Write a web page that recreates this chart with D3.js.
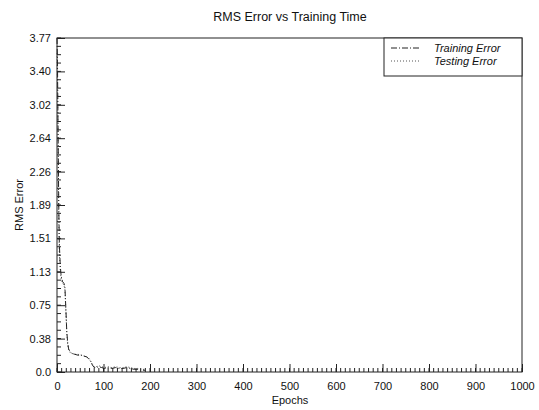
<!DOCTYPE html>
<html><head><meta charset="utf-8">
<script src="https://cdn.jsdelivr.net/npm/d3@7"></script>
<style>body{margin:0;background:#fff}svg{display:block;font-family:"Liberation Sans",Arial,sans-serif}</style>
</head><body><svg id="c" width="539" height="410"></svg>
<script>
const epochsTrain = [0,1,2,3,4,5,7,9,12,15,17,19,21,23,25,28,32,38,45,52,58,64,68,72,76,80,84,90,96,102,110,118,126,134,142,150,158,166,174,182,190];
const trainError  = [3.77,3.5,2.9,2.3,1.8,1.45,1.2,1.08,1.02,1.0,0.96,0.72,0.46,0.33,0.26,0.23,0.21,0.2,0.19,0.19,0.18,0.17,0.15,0.12,0.08,0.05,0.05,0.06,0.05,0.04,0.05,0.04,0.05,0.04,0.04,0.05,0.04,0.03,0.03,0.02,0.02];
const epochsTest  = [0,1,2,3,4,5,7,9,12,15,17,19,21,23,25,28,32,38,45,52,58,64,68,72,76,80,84,90,96,102,110,118,126,134,142,150,158,166,174,182,190];
const testError   = [3.6,3.3,2.7,2.1,1.7,1.35,1.15,1.05,1.0,0.98,0.93,0.7,0.44,0.31,0.25,0.22,0.21,0.2,0.2,0.19,0.18,0.17,0.16,0.13,0.09,0.06,0.06,0.07,0.06,0.05,0.06,0.05,0.06,0.05,0.05,0.06,0.05,0.04,0.04,0.03,0.03];
const yTickValues = [0,0.377,0.754,1.131,1.508,1.885,2.262,2.639,3.016,3.393,3.77];
const yTickLabels = ["0.0","0.38","0.75","1.13","1.51","1.89","2.26","2.64","3.02","3.40","3.77"];
const xTickValues = [0,100,200,300,400,500,600,700,800,900,1000];
const seriesNames = ["Training Error","Testing Error"];

const svg = d3.select("#c");
const L=57, R=522, T=38, B=372;
const x = d3.scaleLinear().domain([0,1000]).range([L,R]);
const y = d3.scaleLinear().domain([0,3.77]).range([B,T]);
const ink = "#222";

svg.append("text").attr("x",290).attr("y",21).attr("text-anchor","middle")
  .attr("font-size",12.5).attr("fill","#111").text("RMS Error vs Training Time");

// frame
svg.append("rect").attr("x",L).attr("y",T).attr("width",R-L).attr("height",B-T)
  .attr("fill","none").attr("stroke",ink).attr("stroke-width",1);

// minor ticks
const yMinor = d3.range(0,3.77+1e-9,0.377/4);
svg.append("g").selectAll("line").data(yMinor).join("line")
  .attr("x1",L).attr("x2",L+4).attr("y1",d=>y(d)).attr("y2",d=>y(d)).attr("stroke",ink);
const xMinor = d3.range(0,1001,10);
svg.append("g").selectAll("line").data(xMinor).join("line")
  .attr("y1",B).attr("y2",B-4).attr("x1",d=>x(d)).attr("x2",d=>x(d)).attr("stroke",ink);

// axes
const yAxis = d3.axisLeft(y).tickValues(yTickValues).tickFormat((d,i)=>yTickLabels[i]).tickSize(-8).tickPadding(6);
const gy = svg.append("g").attr("transform",`translate(${L},0)`).call(yAxis);
const xAxis = d3.axisBottom(x).tickValues(xTickValues).tickFormat(d3.format("d")).tickSize(-8).tickPadding(10);
const gx = svg.append("g").attr("transform",`translate(0,${B})`).call(xAxis);
[gx,gy].forEach(g=>{
  g.select(".domain").remove();
  g.selectAll(".tick line").attr("stroke",ink);
  g.selectAll(".tick text").attr("font-size",11).attr("fill","#111").attr("font-family","Liberation Sans, Arial, sans-serif");
});

svg.append("text").attr("x",290).attr("y",404).attr("text-anchor","middle")
  .attr("font-size",11).attr("fill","#111").text("Epochs");
svg.append("text").attr("transform","translate(23,205) rotate(-90)").attr("text-anchor","middle")
  .attr("font-size",11).attr("fill","#111").text("RMS Error");

// lines
const line = d3.line().x(d=>x(d[0])).y(d=>y(d[1]));
svg.append("path").datum(epochsTest.map((e,i)=>[e,testError[i]]))
  .attr("d",line).attr("fill","none").attr("stroke","#555").attr("stroke-width",1).attr("stroke-dasharray","1,2");
svg.append("path").datum(epochsTrain.map((e,i)=>[e,trainError[i]]))
  .attr("d",line).attr("fill","none").attr("stroke",ink).attr("stroke-width",1).attr("stroke-dasharray","6,2,1,2");

// legend
const lg = svg.append("g");
lg.append("rect").attr("x",384).attr("y",T).attr("width",R-384).attr("height",38)
  .attr("fill","#fff").attr("stroke",ink);
const dashes = ["6,2,1,2","1,2"];
seriesNames.forEach((n,i)=>{
  const yy = 51+i*13;
  lg.append("line").attr("x1",391).attr("x2",421).attr("y1",yy-3).attr("y2",yy-3)
    .attr("stroke",i?"#555":ink).attr("stroke-dasharray",dashes[i]);
  lg.append("text").attr("x",434).attr("y",yy+1).attr("font-size",11).attr("font-style","italic")
    .attr("fill","#111").text(n);
});
</script></body></html>
